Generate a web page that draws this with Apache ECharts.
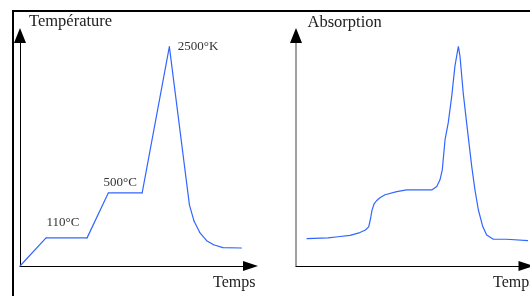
<!DOCTYPE html>
<html>
<head>
<meta charset="utf-8">
<script src="https://cdn.jsdelivr.net/npm/echarts@6/dist/echarts.min.js"></script>
<style>
  html, body { margin: 0; padding: 0; background: #fff; }
  #frame {
    position: absolute; left: 12px; top: 10px; width: 518px; height: 286px;
    border-top: 2px solid #000; border-left: 2px solid #000; box-sizing: border-box;
  }
  #chart { position: absolute; left: 0; top: 0; width: 530px; height: 296px; }
</style>
</head>
<body>
<div id="frame"></div>
<div id="chart"></div>
<script>
// temperature program (arbitrary units)
const tempTime = [0, 11.3, 29.1, 38.3, 53, 64.8, 73.5, 75.5, 78, 81, 84, 88, 96]
const tempValue = [0, 12.2, 12.2, 31.7, 31.7, 95.2, 26.5, 19.5, 14.5, 11, 9.2, 8, 7.8]
// annotated points: [index, text]
const tempNotes = [[1, '110°C'], [3, '500°C'], [5, '2500°K']]

// absorption signal
const absTime = [4.6, 13.9, 18.3, 23.5, 27.8, 30.2, 31.6, 32.4, 33.0, 33.9, 35.0, 36.5, 38.7, 43.8, 48.1, 59.0,
  61.2, 62.6, 63.6, 64.8, 66.2, 67.7, 69.1, 70.6, 71.3, 72.7, 74.2, 76.4, 77.8, 79.3, 81.2, 82.9,
  85.8, 91.6, 92.3, 101.7]
const absValue = [11.9, 12.2, 12.7, 13.3, 14.5, 15.6, 17.0, 20.5, 24.0, 26.8, 28.3, 29.6, 30.9, 32.3, 33.0, 33.0,
  34.5, 37.4, 41.7, 54.8, 62.2, 73.6, 86.7, 95.3, 91.0, 75.1, 62.0, 43.2, 33.0, 24.3, 17.1, 13.5,
  11.6, 11.6, 11.0, 11.0]

const axisNames = { leftY: 'Température', rightY: 'Absorption', x: 'Temps' }

const serif = '"Liberation Serif", "Times New Roman", serif'
const blue = '#3366ff'

// label placement for each note
const noteLabel = {
  1: { position: 'top', distance: 8, offset: [17, 0] },
  3: { position: 'top', distance: 3, offset: [12, 0] },
  5: { position: 'right', distance: 8, offset: [0, 0] }
}

const tempData = tempTime.map((t, i) => {
  const note = tempNotes.find(n => n[0] === i)
  if (!note) return [t, tempValue[i]]
  return {
    value: [t, tempValue[i]],
    label: Object.assign({
      show: true,
      formatter: note[1],
      fontFamily: serif,
      fontSize: 13,
      color: '#333'
    }, noteLabel[i])
  }
})
const absData = absTime.map((t, i) => [t, absValue[i]])

function xAxis(gridIndex, gap) {
  return {
    type: 'value', gridIndex: gridIndex, min: 0, max: 100,
    axisLine: { show: true, symbol: ['none', 'triangle'], symbolSize: [10, 15], lineStyle: { color: '#000', width: 1 } },
    axisTick: { show: false }, axisLabel: { show: false }, splitLine: { show: false },
    name: axisNames.x, nameLocation: 'end', nameGap: gap,
    nameTextStyle: { fontFamily: serif, fontSize: 16, color: '#222', align: 'left', verticalAlign: 'top', padding: [9, 0, 0, 0] }
  }
}

function yAxis(gridIndex, opts) {
  return Object.assign({
    type: 'value', gridIndex: gridIndex, min: 0, max: 100, position: 'left',
    axisTick: { show: false }, axisLabel: { show: false }, splitLine: { show: false }
  }, opts)
}

const chart = echarts.init(document.getElementById('chart'))

chart.setOption({
  animation: false,
  grid: [
    { left: 20, top: 35.5, width: 230.5, bottom: 30, outerBoundsMode: 'none' },
    { left: 296, top: 35.5, width: 230, bottom: 30, outerBoundsMode: 'none' }
  ],
  xAxis: [xAxis(0, -37.5), xAxis(1, -33)],
  yAxis: [
    yAxis(0, {
      axisLine: { show: true, symbol: ['none', 'triangle'], symbolSize: [12, 15], lineStyle: { color: '#000', width: 1 } },
      name: axisNames.leftY, nameLocation: 'end', nameGap: 13.5,
      nameTextStyle: { fontFamily: serif, fontSize: 16.5, color: '#222', align: 'left', verticalAlign: 'middle', padding: [0, 0, 0, 9] }
    }),
    // right axis: grey line ...
    yAxis(1, {
      axisLine: { show: true, lineStyle: { color: '#808080', width: 1.5 } },
      name: axisNames.rightY, nameLocation: 'end', nameGap: 12.5,
      nameTextStyle: { fontFamily: serif, fontSize: 16.5, color: '#222', align: 'left', verticalAlign: 'middle', padding: [0, 0, 0, 11.5] }
    }),
    // ... with a black arrow head on top
    yAxis(1, {
      offset: 0,
      axisLine: { show: true, onZero: false, symbol: ['none', 'triangle'], symbolSize: [12, 15], lineStyle: { color: '#000', width: 0 } }
    })
  ],
  series: [
    {
      type: 'line', xAxisIndex: 0, yAxisIndex: 0,
      data: tempData,
      symbol: 'circle', symbolSize: 1, showSymbol: true,
      itemStyle: { color: blue },
      lineStyle: { color: blue, width: 1.2 },
      emphasis: { disabled: true }, silent: true
    },
    {
      type: 'line', xAxisIndex: 1, yAxisIndex: 1,
      data: absData,
      symbol: 'none', clip: false,
      lineStyle: { color: blue, width: 1.2 },
      emphasis: { disabled: true }, silent: true
    }
  ]
})
</script>
</body>
</html>
